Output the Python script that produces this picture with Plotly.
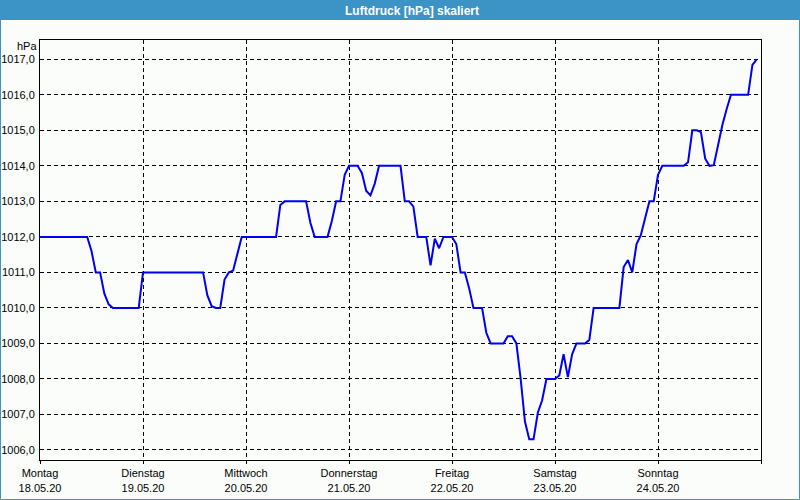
import plotly.graph_objects as go
import pandas as pd

# ---- data (hourly air pressure, hPa) ----
start = "2020-05-18 00:00"
pressure = [
    # Mo 18.05
    1012, 1012, 1012, 1012, 1012, 1012, 1012, 1012, 1012, 1012, 1012, 1012,
    1011.6, 1011, 1011, 1010.4, 1010.1, 1010, 1010, 1010, 1010, 1010, 1010, 1010,
    # Di 19.05
    1011, 1011, 1011, 1011, 1011, 1011, 1011, 1011, 1011, 1011, 1011, 1011,
    1011, 1011, 1011, 1010.35, 1010.05, 1010, 1010, 1010.8, 1011, 1011.05, 1011.5, 1012,
    # Mi 20.05
    1012, 1012, 1012, 1012, 1012, 1012, 1012, 1012, 1012.9, 1013, 1013, 1013,
    1013, 1013, 1013, 1012.4, 1012, 1012, 1012, 1012, 1012.45, 1013, 1013, 1013.75,
    # Do 21.05
    1014, 1014, 1014, 1013.8, 1013.3, 1013.17, 1013.5, 1014, 1014, 1014, 1014, 1014,
    1014, 1013, 1013, 1012.85, 1012, 1012, 1012, 1011.2, 1011.95, 1011.68, 1012, 1012,
    # Fr 22.05
    1012, 1011.8, 1011, 1011, 1010.55, 1010, 1010, 1010, 1009.3, 1009, 1009, 1009,
    1009, 1009.2, 1009.2, 1009, 1008, 1006.8, 1006.3, 1006.3, 1007.05, 1007.4, 1008, 1008,
    # Sa 23.05
    1008, 1008.1, 1008.7, 1008.05, 1008.7, 1009, 1009, 1009, 1009.1, 1010, 1010, 1010,
    1010, 1010, 1010, 1010, 1011.15, 1011.35, 1011, 1011.8, 1012.05, 1012.5, 1013, 1013,
    # So 24.05
    1013.75, 1014, 1014, 1014, 1014, 1014, 1014, 1014.1, 1015, 1015, 1014.95, 1014.2,
    1014, 1014.02, 1014.6, 1015.15, 1015.6, 1016, 1016, 1016, 1016, 1016, 1016.84, 1017,
]
day_ticks = ["2020-05-18", "2020-05-19", "2020-05-20", "2020-05-21",
             "2020-05-22", "2020-05-23", "2020-05-24", "2020-05-25"]
day_names = ["Montag", "Dienstag", "Mittwoch", "Donnerstag",
             "Freitag", "Samstag", "Sonntag", ""]
day_dates = ["18.05.20", "19.05.20", "20.05.20", "21.05.20",
             "22.05.20", "23.05.20", "24.05.20", ""]
y_ticks = [1006, 1007, 1008, 1009, 1010, 1011, 1012, 1013, 1014, 1015, 1016, 1017]
y_text = [f"{v},0" for v in y_ticks]
title = "Luftdruck [hPa] skaliert"
unit = "hPa"

times = pd.date_range(start, periods=len(pressure), freq="h")

W, H = 800, 500
ML, MR, MT, MB = 40, 39, 40, 40
PW, PH = W - ML - MR, H - MT - MB


def px(x):
    return (x - ML) / PW


def py(y):
    return (H - MB - y) / PH


BLUE = "#3c93c5"
BG = "#fbfdfb"
FONT = "Liberation Sans, Arial, sans-serif"

fig = go.Figure()
fig.add_trace(go.Scatter(
    x=times, y=pressure, mode="lines",
    line=dict(color="#0000f0", width=2),
    hoverinfo="x+y", showlegend=False,
))

ticktext = [f"{n}<br>{d}" if n else "" for n, d in zip(day_names, day_dates)]

fig.update_layout(
    width=W, height=H,
    margin=dict(l=ML, r=MR, t=MT, b=MB, pad=0, autoexpand=False),
    paper_bgcolor=BG, plot_bgcolor=BG,
    font=dict(family=FONT, size=11, color="#000000"),
    title=dict(text=f"<b>{title}</b>", x=412 / W, xanchor="center",
               y=1 - 10.5 / H, yanchor="middle", xref="container", yref="container",
               font=dict(family=FONT, size=12, color="#ffffff")),
    xaxis=dict(
        type="date",
        range=[day_ticks[0], day_ticks[-1]],
        tickmode="array", tickvals=day_ticks, ticktext=ticktext,
        ticks="outside", ticklen=3, tickcolor="#000000", tickwidth=1,
        showgrid=True, gridcolor="#000000", gridwidth=1, griddash="4px,3px",
        showline=True, linecolor="#000000", linewidth=1, mirror=True,
        zeroline=False, fixedrange=True, automargin=False,
        tickfont=dict(family=FONT, size=11, color="#000000"),
    ),
    yaxis=dict(
        range=[1005.718, 1017.543],
        tickmode="array", tickvals=y_ticks, ticktext=y_text,
        ticks="", ticklabelstandoff=2,
        showgrid=True, gridcolor="#000000", gridwidth=1, griddash="4px,3px",
        showline=True, linecolor="#000000", linewidth=1, mirror=True,
        zeroline=False, fixedrange=True, automargin=False,
        tickfont=dict(family=FONT, size=11, color="#000000"),
    ),
    shapes=[
        dict(type="rect", xref="paper", yref="paper",
             x0=px(0), x1=px(W), y0=py(20), y1=py(0),
             fillcolor=BLUE, line=dict(width=0), layer="below"),
        dict(type="rect", xref="paper", yref="paper",
             x0=px(0.5), x1=px(W - 0.5), y0=py(H - 0.5), y1=py(0.5),
             fillcolor="rgba(0,0,0,0)", line=dict(color=BLUE, width=1), layer="above"),
    ],
    annotations=[
        dict(text=unit, xref="paper", yref="paper", x=px(39), y=py(46),
             xanchor="right", yanchor="middle", showarrow=False,
             font=dict(family=FONT, size=11, color="#000000")),
    ],
)

fig.write_html("out.html")
